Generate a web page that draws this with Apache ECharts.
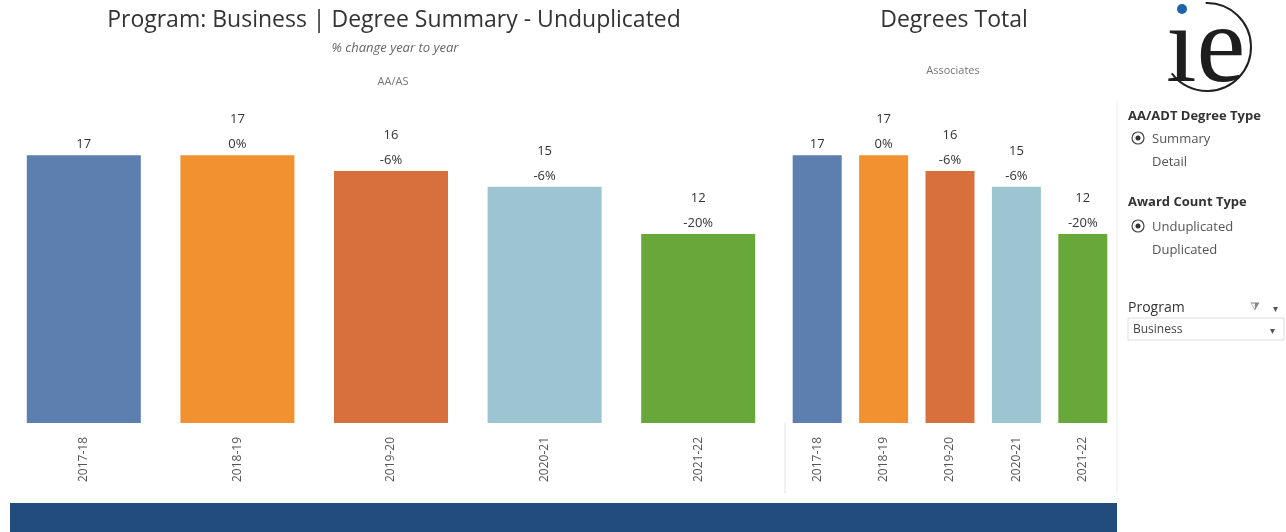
<!DOCTYPE html>
<html>
<head>
<meta charset="utf-8">
<script src="https://cdn.jsdelivr.net/npm/echarts@6/dist/echarts.min.js"></script>
<style>
  html, body { margin: 0; padding: 0; background: #fff; }
  #chart { width: 1286px; height: 532px; }
</style>
</head>
<body>
<div id="chart"></div>
<script>
  // data
  var years = ['2017-18', '2018-19', '2019-20', '2020-21', '2021-22'];
  var aaAsCounts = [17, 17, 16, 15, 12];
  var associatesCounts = [17, 17, 16, 15, 12];
  var pctChange = ['', '0%', '-6%', '-6%', '-20%'];
  var barColors = ['#5c7fb0', '#f2912f', '#d8703e', '#9dc5d1', '#68a83a'];

  var font = 'Open Sans, Noto Sans, sans-serif';

  function labelText(params) {
    var p = pctChange[params.dataIndex];
    return p ? params.value + '\n' + p : '' + params.value;
  }

  var barLabel = {
    show: true,
    position: 'top',
    distance: -2,
    color: '#333',
    fontSize: 13,
    lineHeight: 25,
    fontFamily: font,
    formatter: labelText
  };

  var xLabel = {
    rotate: 90,
    margin: 14,
    color: '#555',
    fontSize: 12,
    fontFamily: font
  };

  let myChart = echarts.init(document.getElementById('chart'));
  let option = {
    backgroundColor: '#fff',
    animation: false,
    title: [
      {
        text: 'Program: Business | Degree Summary - Unduplicated',
        left: 389, top: 4, textAlign: 'center',
        textStyle: { fontSize: 23, fontWeight: 'normal', color: '#333', fontFamily: font }
      },
      {
        text: '% change year to year',
        left: 390, top: 37, textAlign: 'center',
        textStyle: { fontSize: 13, fontStyle: 'italic', fontWeight: 'normal', color: '#666', fontFamily: font }
      },
      {
        text: 'AA/AS',
        left: 388, top: 71, textAlign: 'center',
        textStyle: { fontSize: 11, fontWeight: 'normal', color: '#777', fontFamily: font }
      },
      {
        text: 'Degrees Total',
        left: 949, top: 4, textAlign: 'center',
        textStyle: { fontSize: 23, fontWeight: 'normal', color: '#333', fontFamily: font }
      },
      {
        text: 'Associates',
        left: 948, top: 60, textAlign: 'center',
        textStyle: { fontSize: 11, fontWeight: 'normal', color: '#777', fontFamily: font }
      }
    ],
    grid: [
      { left: 7, width: 768, top: 108, height: 315 },
      { left: 784, width: 332, top: 108, height: 315 }
    ],
    xAxis: [
      {
        type: 'category', gridIndex: 0, data: years,
        axisLine: { show: false }, axisTick: { show: false },
        axisLabel: xLabel
      },
      {
        type: 'category', gridIndex: 1, data: years,
        axisLine: { show: false }, axisTick: { show: false },
        axisLabel: xLabel
      }
    ],
    yAxis: [
      { type: 'value', gridIndex: 0, min: 0, max: 20, show: false },
      { type: 'value', gridIndex: 1, min: 0, max: 20, show: false }
    ],
    series: [
      {
        name: 'AA/AS',
        type: 'bar',
        xAxisIndex: 0, yAxisIndex: 0,
        barWidth: 114,
        data: aaAsCounts,
        itemStyle: {
          color: function (params) { return barColors[params.dataIndex]; }
        },
        label: barLabel
      },
      {
        name: 'Associates',
        type: 'bar',
        xAxisIndex: 1, yAxisIndex: 1,
        barWidth: 49,
        data: associatesCounts,
        itemStyle: {
          color: function (params) { return barColors[params.dataIndex]; }
        },
        label: barLabel
      }
    ],
    graphic: [
      // pane borders under the right chart
      { type: 'line', shape: { x1: 785, y1: 423, x2: 785, y2: 493 }, style: { stroke: '#e2e2e2', lineWidth: 1 } },
      { type: 'line', shape: { x1: 1117, y1: 100, x2: 1117, y2: 493 }, style: { stroke: '#ececec', lineWidth: 1 } },
      // bottom banner
      { type: 'rect', shape: { x: 10, y: 503, width: 1107, height: 29 }, style: { fill: '#214c7b' } },

      // logo
      { type: 'arc', shape: { cx: 1207, cy: 47, r: 44, startAngle: -1.6, endAngle: 2.5, clockwise: true }, style: { stroke: '#222', lineWidth: 2, fill: null } },
      { type: 'text', x: 1166, y: -3, style: { text: '\u0131e', fontSize: 110, fontFamily: 'Liberation Serif, DejaVu Serif, serif', fill: '#1e1e1e' } },
      { type: 'circle', shape: { cx: 1182, cy: 9, r: 5 }, style: { fill: '#1f63a8' } },

      // filter panel
      { type: 'text', x: 1128, y: 110, style: { text: 'AA/ADT Degree Type', fontSize: 13, fontWeight: 'bold', fontFamily: font, fill: '#333' } },
      { type: 'circle', shape: { cx: 1138, cy: 138, r: 6 }, style: { fill: '#fff', stroke: '#444', lineWidth: 1.2 } },
      { type: 'circle', shape: { cx: 1138, cy: 138, r: 2.5 }, style: { fill: '#333' } },
      { type: 'text', x: 1152, y: 133, style: { text: 'Summary', fontSize: 13, fontFamily: font, fill: '#555' } },
      { type: 'text', x: 1152, y: 156, style: { text: 'Detail', fontSize: 13, fontFamily: font, fill: '#555' } },

      { type: 'text', x: 1128, y: 196, style: { text: 'Award Count Type', fontSize: 13, fontWeight: 'bold', fontFamily: font, fill: '#333' } },
      { type: 'circle', shape: { cx: 1138, cy: 226, r: 6 }, style: { fill: '#fff', stroke: '#444', lineWidth: 1.2 } },
      { type: 'circle', shape: { cx: 1138, cy: 226, r: 2.5 }, style: { fill: '#333' } },
      { type: 'text', x: 1152, y: 221, style: { text: 'Unduplicated', fontSize: 13, fontFamily: font, fill: '#555' } },
      { type: 'text', x: 1152, y: 244, style: { text: 'Duplicated', fontSize: 13, fontFamily: font, fill: '#555' } },

      { type: 'text', x: 1128, y: 301, style: { text: 'Program', fontSize: 14, fontFamily: font, fill: '#333' } },
      { type: 'text', x: 1250, y: 302, style: { text: '\u29E9', fontSize: 11, fontFamily: 'DejaVu Sans', fill: '#888' } },
      { type: 'text', x: 1273, y: 304, style: { text: '\u25BE', fontSize: 10, fontFamily: 'DejaVu Sans', fill: '#555' } },
      { type: 'rect', shape: { x: 1128, y: 318, width: 156, height: 22 }, style: { fill: '#fff', stroke: '#ddd', lineWidth: 1 } },
      { type: 'text', x: 1133, y: 324, style: { text: 'Business', fontSize: 12, fontFamily: font, fill: '#444' } },
      { type: 'text', x: 1270, y: 326, style: { text: '\u25BE', fontSize: 10, fontFamily: 'DejaVu Sans', fill: '#555' } }
    ]
  };
  myChart.setOption(option);
</script>
</body>
</html>
